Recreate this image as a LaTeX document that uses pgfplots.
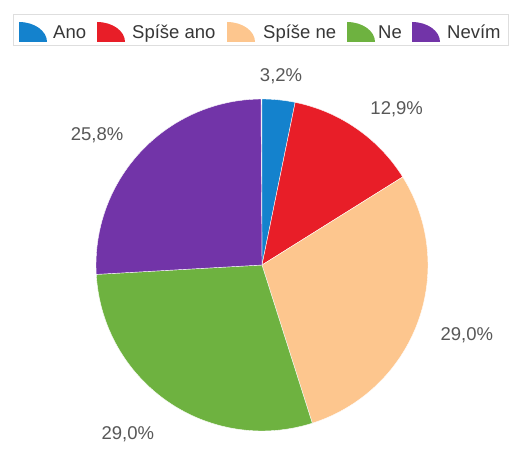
\documentclass[border=0pt]{standalone}
\usepackage{pgfplots}
\pgfplotsset{compat=1.18}
\usepackage{pgfplotstable}
\usepackage{fontspec}
\setmainfont{Liberation Sans}
\definecolor{c0}{RGB}{20,130,205}
\definecolor{c1}{RGB}{232,30,40}
\definecolor{c2}{RGB}{253,198,142}
\definecolor{c3}{RGB}{110,178,64}
\definecolor{c4}{RGB}{114,52,168}
\definecolor{labgray}{RGB}{88,88,88}
\definecolor{leggray}{RGB}{55,55,55}
\definecolor{legborder}{RGB}{222,222,222}
\pgfplotstableread{
name value legx textx
Ano 3.2 19 53
{Spíše ano} 12.9 97 132
{Spíše ne} 29.0 227 263
Ne 29.0 347 378
Nevím 25.8 412 447
}\datatable
\begin{document}
\begin{tikzpicture}
\begin{axis}[
  x=1pt, y=1pt, xmin=0, xmax=518, ymin=0, ymax=461,
  hide axis, clip=false,
]
\fill[white] (axis cs:0,0) rectangle (axis cs:518,461);
% legend box
\draw[legborder, line width=0.8pt] (axis cs:13,416) rectangle (axis cs:508,447);
\def\cum{0}
\pgfplotsforeachungrouped \i in {0,...,4} {
  \pgfplotstablegetelem{\i}{value}\of\datatable
  \let\v\pgfplotsretval
  \pgfplotstablegetelem{\i}{name}\of\datatable
  \let\nm\pgfplotsretval
  \pgfplotstablegetelem{\i}{legx}\of\datatable
  \let\lx\pgfplotsretval
  \pgfplotstablegetelem{\i}{textx}\of\datatable
  \let\tx\pgfplotsretval
  \pgfmathsetmacro\a{90-\cum*3.6}
  \pgfmathsetmacro\b{90-(\cum+\v)*3.6}
  \pgfmathsetmacro\m{(\a+\b)/2}
  \pgfmathsetmacro\sm{sin(\m)}
  \pgfmathsetmacro\ry{\sm<0 ? 205 : 190}
  \pgfmathsetmacro\px{262+190*cos(\m)}
  \pgfmathsetmacro\py{196+\ry*sin(\m)}
  \pgfmathsetmacro\cm{cos(\m)}
  \ifdim\cm pt>0.3pt \def\anc{west}\else\ifdim\cm pt<-0.3pt \def\anc{east}\else\def\anc{center}\fi\fi
  \edef\temp{%
    \noexpand\fill[c\i, draw=white, line width=0.4pt] (axis cs:262,196) -- ++(\a:166pt) arc[start angle=\a, end angle=\b, radius=166pt] -- cycle;
    \noexpand\node[anchor=\anc, inner sep=0pt, text=labgray, font=\noexpand\fontsize{18.5}{22}\noexpand\selectfont] at (axis cs:\px,\py) {\noexpand\pgfmathprintnumber[fixed, fixed zerofill, precision=1, use comma, assume math mode=true]{\v}\noexpand\%};
    \noexpand\fill[c\i] (axis cs:\lx,419) -- (axis cs:\lx,439) arc[start angle=90, end angle=0, x radius=28pt, y radius=20pt] -- cycle;
    \noexpand\node[anchor=base west, inner sep=0pt, text=leggray, font=\noexpand\fontsize{18.5}{22}\noexpand\selectfont] at (axis cs:\tx,422.7) {\nm};
  }%
  \temp
  \pgfmathsetmacro\cum{\cum+\v}
}
\end{axis}
\end{tikzpicture}
\end{document}
